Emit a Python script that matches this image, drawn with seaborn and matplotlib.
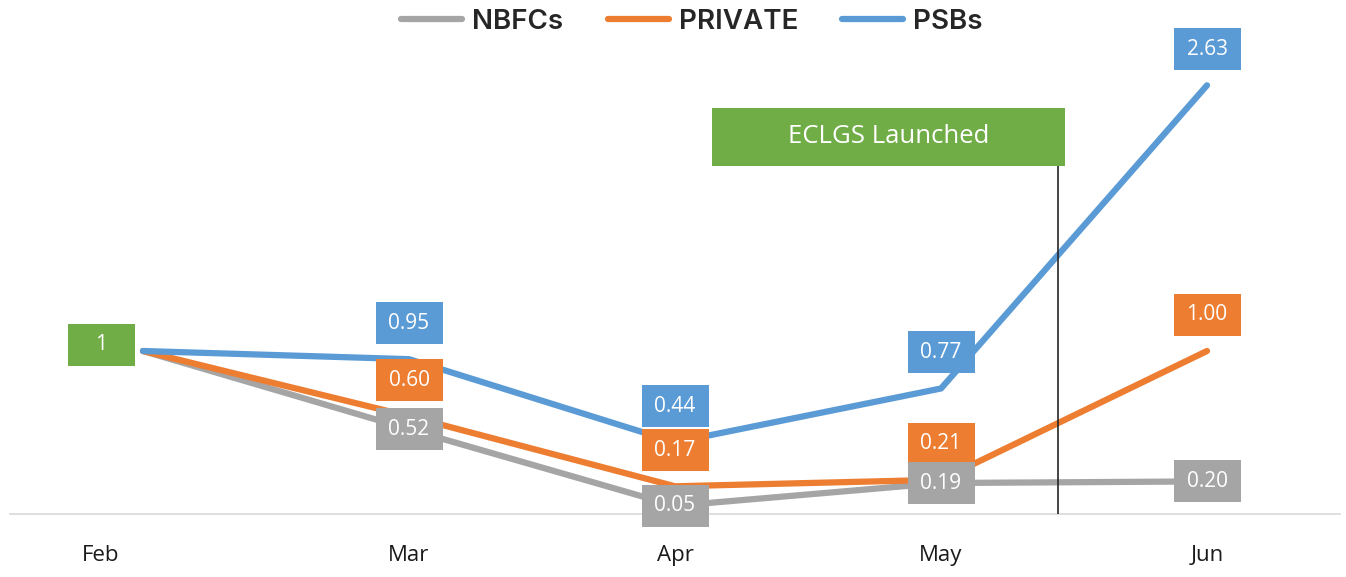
import matplotlib
matplotlib.use("Agg")
import matplotlib.pyplot as plt
import matplotlib.transforms as mtransforms
import seaborn as sns
import pandas as pd
from matplotlib.patches import Rectangle
from matplotlib.lines import Line2D

months = ["Feb", "Mar", "Apr", "May", "Jun"]
nbfcs = [1, 0.52, 0.05, 0.19, 0.20]
private = [1, 0.60, 0.17, 0.21, 1.00]
psbs = [1, 0.95, 0.44, 0.77, 2.63]
series_names = ["NBFCs", "PRIVATE", "PSBs"]
colors = {"NBFCs": "#A5A5A5", "PRIVATE": "#ED7D31", "PSBs": "#5B9BD5"}
green = "#70AD47"
event_label = "ECLGS Launched"

sns.set_theme(style="white")
plt.rcParams["font.family"] = ["Open Sans", "DejaVu Sans"]

rows = []
for name, vals in zip(series_names, [nbfcs, private, psbs]):
    for i, (m, v) in enumerate(zip(months, vals)):
        rows.append({"idx": i, "month": m, "value": v, "series": name})
df = pd.DataFrame(rows)

W, H = 1346, 577
fig = plt.figure(figsize=(W / 100, H / 100), dpi=100)
ax = fig.add_axes([10 / W, 63 / H, 1330 / W, (H - 63) / H])

sns.lineplot(data=df, x="idx", y="value", hue="series", hue_order=series_names,
             palette=colors, linewidth=4.5, ax=ax, legend=False, sort=False)
for ln in ax.get_lines():
    ln.set_solid_capstyle("round")
    ln.set_solid_joinstyle("round")

ax.set_xlim(-0.5, 4.5)
ax.set_ylim(0, 514 / 163)
ax.set_xticks(range(len(months)))
ax.set_xticklabels(months, fontsize=16, color="#1a1a1a")
ax.tick_params(axis="x", length=0, pad=22)
# first category label sits under the start marker box
first = ax.get_xticklabels()[0]
first.set_transform(first.get_transform() +
                    mtransforms.ScaledTranslation(-0.42, 0, fig.dpi_scale_trans))
ax.set_yticks([])
ax.set_xlabel("")
ax.set_ylabel("")
for s in ["top", "left", "right"]:
    ax.spines[s].set_visible(False)
ax.spines["bottom"].set_color("#D9D9D9")
ax.spines["bottom"].set_linewidth(1.2)

# data label boxes
bw = 67 / 266
bh = 42 / 163
up = 36 / 163


def label_box(x, y, text, color):
    ax.add_patch(Rectangle((x - bw / 2, y - bh / 2), bw, bh, facecolor=color,
                           edgecolor="none", zorder=5, clip_on=False))
    ax.text(x, y, text, ha="center", va="center", color="white", fontsize=15,
            zorder=6, clip_on=False)


# Feb shared starting point
label_box(0 - 42 / 266, nbfcs[0] + 6 / 163, f"{nbfcs[0]:g}", green)
for i in range(1, len(months)):
    label_box(i, psbs[i] + up, f"{psbs[i]:.2f}", colors["PSBs"])
    label_box(i, private[i] + up, f"{private[i]:.2f}", colors["PRIVATE"])
    label_box(i, nbfcs[i], f"{nbfcs[i]:.2f}", colors["NBFCs"])

# ECLGS event marker
ev_x = 3.44
box_x0, box_x1 = 2.139, 3.466
box_y0, box_y1 = 2.135, 2.491
ax.plot([ev_x, ev_x], [0, box_y0], color="#262626", linewidth=1.2, zorder=3)
ax.add_patch(Rectangle((box_x0, box_y0), box_x1 - box_x0, box_y1 - box_y0,
                       facecolor=green, edgecolor="none", zorder=5))
ax.text((box_x0 + box_x1) / 2, (box_y0 + box_y1) / 2, event_label, ha="center",
        va="center", color="white", fontsize=18.5, zorder=6)

handles = [Line2D([0], [0], color=colors[n], linewidth=4.5, solid_capstyle="round")
           for n in series_names]
fig.legend(handles, series_names, loc="center", bbox_to_anchor=(692 / W, 1 - 22 / H),
           ncol=3, frameon=False, handlelength=2.2, handletextpad=0.35,
           columnspacing=1.6,
           prop={"family": "Inter", "size": 20, "weight": "semibold"},
           labelcolor="#262626")

fig.savefig("out.png", dpi=100, facecolor="white")
